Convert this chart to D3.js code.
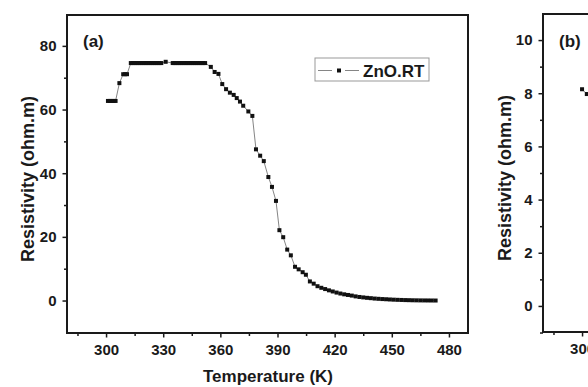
<!DOCTYPE html>
<html>
<head>
  <meta charset="utf-8">
  <script src="https://d3js.org/d3.v7.min.js"></script>
  <style>
    body { margin: 0; background: #fff; }
    svg text { font-family: "Liberation Sans", Arial, sans-serif; font-weight: bold; fill: #1a1a1a; }
    .axis path { display: none; }
    .axis line { stroke: #1a1a1a; stroke-width: 1.5; }
    .axis text { font-size: 15px; }
  </style>
</head>
<body>
<div id="chart"></div>
<script>
// panel (a): ZnO.RT resistivity vs temperature
var tempA = [301, 302, 303, 304, 305, 307, 309, 310, 311,
  313, 314, 315, 316, 317, 318, 319, 320, 321, 322, 323, 324, 325, 326, 327, 328, 329,
  331.3,
  335, 336, 337, 338, 339, 340, 341, 342, 343, 344, 345, 346, 347, 348, 349, 350, 351, 352,
  355, 357, 359, 361, 363, 365, 367, 368.6, 370.3, 372, 374.7, 376.8,
  378.7, 380.9, 382.8, 385.2, 387.1, 389.2, 391, 393, 395.1, 397, 399.2, 401.1, 403.2, 404.9,
  407, 409, 411, 413, 415, 417, 419, 421, 423, 425, 427, 429, 431, 433, 435, 437, 439, 441,
  443, 445, 447, 449, 451, 453, 455, 457, 459, 461, 463, 465, 467, 469, 471, 473];
var resA = [62.7, 62.7, 62.7, 62.7, 62.7, 68.3, 71.1, 71.1, 71.1,
  74.6, 74.6, 74.6, 74.6, 74.6, 74.6, 74.6, 74.6, 74.6, 74.6, 74.6, 74.6, 74.6, 74.6, 74.6, 74.6, 74.6,
  75.0,
  74.6, 74.6, 74.6, 74.6, 74.6, 74.6, 74.6, 74.6, 74.6, 74.6, 74.6, 74.6, 74.6, 74.6, 74.6, 74.6, 74.6, 74.6,
  73.4, 71.8, 71.2, 68.0, 66.4, 65.3, 64.6, 63.6, 62.5, 61.2, 59.4, 58.0,
  47.5, 45.5, 43.8, 38.8, 35.7, 31.3, 22.1, 19.9, 16.0, 14.2, 10.6, 9.8, 8.9, 8.1,
  6.0, 5.3, 4.5, 4.0, 3.6, 3.2, 2.85, 2.5, 2.2, 1.95, 1.75, 1.55, 1.3, 1.12, 0.98, 0.85, 0.74, 0.62,
  0.54, 0.46, 0.4, 0.33, 0.27, 0.22, 0.18, 0.14, 0.11, 0.08, 0.06, 0.04, 0.03, 0.02, 0.01, 0.0];

// panel (b): only the first points are inside the picture
var tempB = [300, 302.5, 305];
var resB = [8.15, 7.97, 7.8];

var xTicks = [300, 330, 360, 390, 420, 450, 480];
var xMinor = [285, 315, 345, 375, 405, 435, 465];
var yTicksA = [0, 20, 40, 60, 80];
var yMinorA = [10, 30, 50, 70];
var yTicksB = [0, 2, 4, 6, 8, 10];
var yMinorB = [-1, 1, 3, 5, 7, 9];

var width = 588, height = 387;
var svg = d3.select("#chart").append("svg")
  .attr("width", width)
  .attr("height", height);

function drawPanel(opt) {
  var x = d3.scaleLinear().domain([279.5, 490]).range([opt.left, opt.left + 401]);
  var y = d3.scaleLinear().domain(opt.yDomain).range([opt.bottom, opt.top]);
  var g = svg.append("g");

  // minor ticks
  g.append("g").attr("class", "axis")
    .attr("transform", "translate(0," + opt.bottom + ")")
    .call(d3.axisBottom(x).tickValues(xMinor).tickSize(3).tickFormat(""));
  g.append("g").attr("class", "axis")
    .attr("transform", "translate(" + opt.left + ",0)")
    .call(d3.axisLeft(y).tickValues(opt.yMinor).tickSize(3).tickFormat(""));

  // major ticks
  g.append("g").attr("class", "axis")
    .attr("transform", "translate(0," + opt.bottom + ")")
    .call(d3.axisBottom(x).tickValues(xTicks).tickSize(4.5).tickPadding(7).tickFormat(d3.format("d")));
  g.append("g").attr("class", "axis")
    .attr("transform", "translate(" + opt.left + ",0)")
    .call(d3.axisLeft(y).tickValues(opt.yTicks).tickSize(4.5).tickPadding(6).tickFormat(d3.format("d")));

  // frame
  g.append("rect")
    .attr("x", opt.left).attr("y", opt.top)
    .attr("width", 401).attr("height", opt.bottom - opt.top)
    .attr("fill", "none").attr("stroke", "#1a1a1a").attr("stroke-width", 2);

  var pts = opt.temps.map(function (t, i) { return [t, opt.vals[i]]; });
  g.append("path")
    .datum(pts)
    .attr("fill", "none")
    .attr("stroke", "#777")
    .attr("stroke-width", 0.9)
    .attr("d", d3.line().x(function (d) { return x(d[0]); }).y(function (d) { return y(d[1]); }));
  g.selectAll(".pt").data(pts).enter().append("rect")
    .attr("x", function (d) { return x(d[0]) - 2; })
    .attr("y", function (d) { return y(d[1]) - 2; })
    .attr("width", 4).attr("height", 4)
    .attr("fill", "#111");

  g.append("text")
    .attr("x", opt.left + 16).attr("y", 47)
    .style("font-size", "17px")
    .text(opt.label);

  g.append("text")
    .attr("transform", "translate(" + opt.titleX + "," + ((opt.top + opt.bottom) / 2 + 5) + ") rotate(-90)")
    .attr("text-anchor", "middle")
    .style("font-size", "18px")
    .text("Resistivity (ohm.m)");
  return { x: x, y: y, g: g };
}

drawPanel({ left: 67, top: 15, bottom: 333, yDomain: [-10.2, 89.7],
  yTicks: yTicksA, yMinor: yMinorA, temps: tempA, vals: resA, label: "(a)", titleX: 34 });
drawPanel({ left: 543, top: 14, bottom: 332, yDomain: [-0.98, 10.98],
  yTicks: yTicksB, yMinor: yMinorB, temps: tempB, vals: resB, label: "(b)", titleX: 511 });

// x title
svg.append("text")
  .attr("x", 268).attr("y", 382)
  .attr("text-anchor", "middle")
  .style("font-size", "17px")
  .text("Temperature (K)");

// legend
var leg = svg.append("g");
leg.append("rect")
  .attr("x", 315).attr("y", 58).attr("width", 114).attr("height", 23)
  .attr("fill", "#fff").attr("stroke", "#999").attr("stroke-width", 1);
leg.append("line").attr("x1", 318).attr("x2", 332).attr("y1", 70.5).attr("y2", 70.5)
  .attr("stroke", "#777").attr("stroke-width", 0.9);
leg.append("line").attr("x1", 345).attr("x2", 359).attr("y1", 70.5).attr("y2", 70.5)
  .attr("stroke", "#777").attr("stroke-width", 0.9);
leg.append("rect").attr("x", 337).attr("y", 68.5).attr("width", 4).attr("height", 4).attr("fill", "#111");
leg.append("text")
  .attr("x", 363).attr("y", 76.5)
  .style("font-size", "17px")
  .text("ZnO.RT");
</script>
</body>
</html>
